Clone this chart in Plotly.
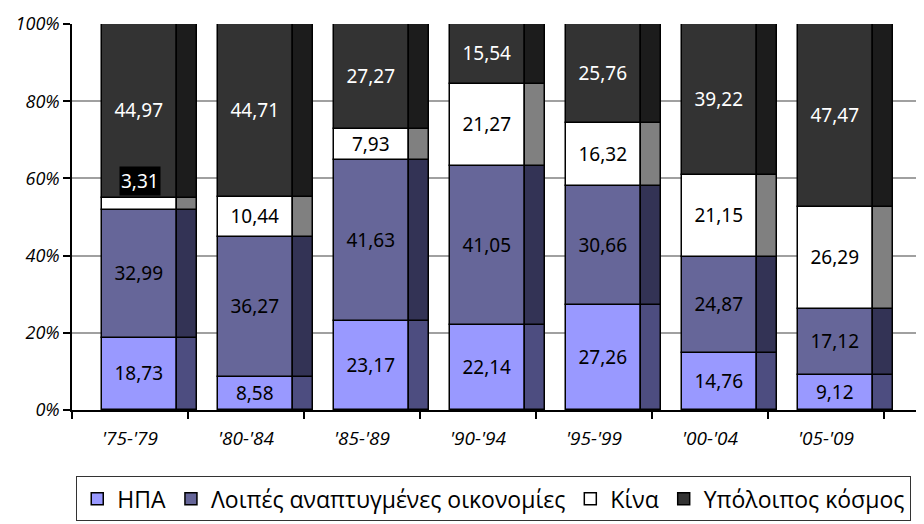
import plotly.graph_objects as go

categories = ["'75-'79", "'80-'84", "'85-'89", "'90-'94", "'95-'99", "'00-'04", "'05-'09"]
series_names = ["ΗΠΑ", "Λοιπές αναπτυγμένες οικονομίες", "Κίνα", "Υπόλοιπος κόσμος"]
usa = [18.73, 8.58, 23.17, 22.14, 27.26, 14.76, 9.12]
other_dev = [32.99, 36.27, 41.63, 41.05, 30.66, 24.87, 17.12]
china = [3.31, 10.44, 7.93, 21.27, 16.32, 21.15, 26.29]
rest = [44.97, 44.71, 27.27, 15.54, 25.76, 39.22, 47.47]
y_ticks = [0, 20, 40, 60, 80, 100]

series = [usa, other_dev, china, rest]
front_colors = ["#9999FF", "#666699", "#FFFFFF", "#333333"]
side_colors = ["#4D4D80", "#333355", "#808080", "#1C1C1C"]
text_colors = ["black", "black", "black", "white"]

FRONT_OFF, FRONT_W = -0.241, 0.647
SIDE_OFF, SIDE_W = 0.405, 0.172
LABEL_FONT = "Noto Sans"
AX_FONT = "Open Sans"

fig = go.Figure()
base = [0.0] * len(categories)
small_labels = []
for s, vals in enumerate(series):
    texts = []
    for i, v in enumerate(vals):
        if v < 5:
            texts.append("")
            small_labels.append((i, base[i] + v, v))
        else:
            texts.append(f"{v:.2f}".replace(".", ","))
    # front face
    fig.add_trace(go.Bar(
        x=categories, y=vals, base=list(base), name=series_names[s],
        offset=FRONT_OFF, width=FRONT_W,
        marker=dict(color=front_colors[s], line=dict(color="black", width=1.5)),
        text=texts, textposition="inside", insidetextanchor="middle",
        textangle=0, constraintext="none",
        textfont=dict(family=LABEL_FONT, size=19, color=text_colors[s]),
        showlegend=True, hoverinfo="skip",
    ))
    # side face
    fig.add_trace(go.Bar(
        x=categories, y=vals, base=list(base), name=series_names[s],
        offset=SIDE_OFF, width=SIDE_W,
        marker=dict(color=side_colors[s], line=dict(color="black", width=1.5)),
        showlegend=False, hoverinfo="skip",
    ))
    base = [b + v for b, v in zip(base, vals)]

for i, top, v in small_labels:
    fig.add_annotation(
        x=i + FRONT_OFF + FRONT_W / 2, y=top, xref="x", yref="y",
        text=f"{v:.2f}".replace(".", ","), showarrow=False,
        yanchor="bottom", yshift=2, bgcolor="black", borderpad=1,
        font=dict(family=LABEL_FONT, size=19, color="white"),
    )

fig.update_layout(
    width=916, height=516,
    margin=dict(l=64, r=3, t=12, b=114),
    paper_bgcolor="white", plot_bgcolor="white",
    barmode="overlay", bargap=0,
    uniformtext=dict(mode="show", minsize=19),
    showlegend=True,
    legend=dict(
        orientation="h", x=0.005, y=-0.172, xanchor="left", yanchor="top",
        bordercolor="#333333", borderwidth=1, bgcolor="white",
        font=dict(family=AX_FONT, size=23, color="black"),
        itemwidth=30, traceorder="normal",
    ),
    font=dict(family=AX_FONT),
)
fig.update_xaxes(
    type="category", range=[-0.5, 6.819],
    tickson="boundaries", ticks="outside", ticklen=7, tickcolor="black", tickwidth=1.5,
    showline=True, linecolor="black", linewidth=1.5, showgrid=False,
    tickfont=dict(family=AX_FONT, size=19, style="italic", color="black"),
    ticklabelstandoff=10,
)
fig.update_yaxes(
    range=[0, 100], tickvals=y_ticks, ticktext=[f"{t}%" for t in y_ticks],
    ticks="outside", ticklen=7, tickcolor="black", tickwidth=1.5,
    showline=True, linecolor="black", linewidth=1.5,
    showgrid=True, gridcolor="#A0A0A0", gridwidth=1.5, zeroline=False,
    tickfont=dict(family=AX_FONT, size=18, style="italic", color="black"),
    ticklabeloverflow="allow",
)

fig.write_html("out.html")
